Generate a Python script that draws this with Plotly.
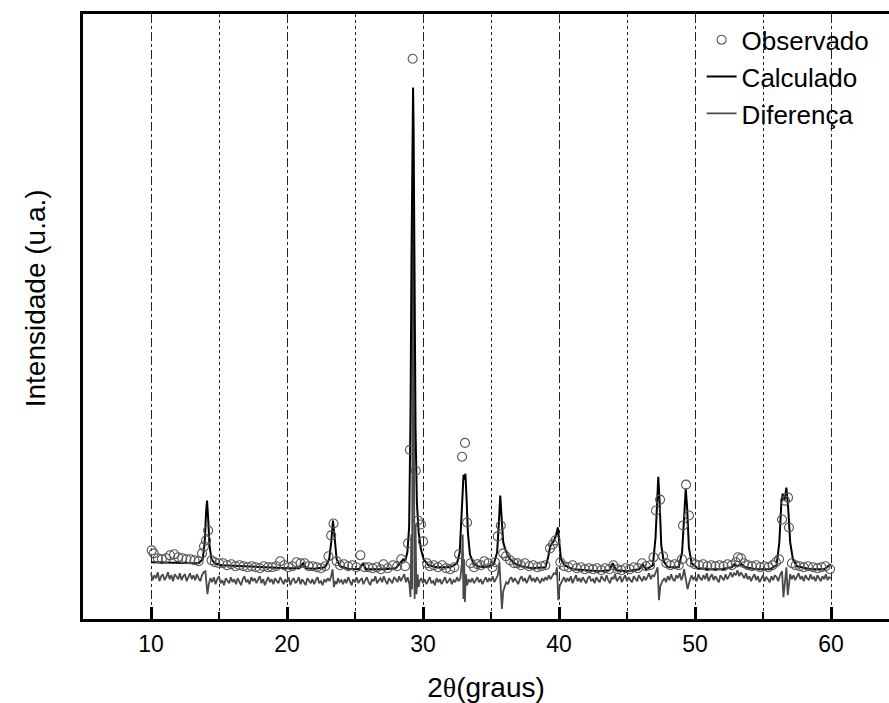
import plotly.graph_objects as go

# 2-theta positions (degrees) and intensities (arbitrary units)

# Observed pattern (open circles)
obs_x = [10.05, 10.2, 10.5, 10.8, 11.1, 11.4, 11.7, 12.0, 12.3, 12.6, 12.9, 13.2, 13.5, 13.75,
         13.9, 14.05, 14.2, 14.45, 14.7, 15.0, 15.3, 15.6, 15.9, 16.2, 16.5, 16.8, 17.1, 17.4,
         17.7, 18.0, 18.3, 18.6, 18.9, 19.2, 19.5, 19.8, 20.1, 20.4, 20.7, 21.0, 21.3, 21.6,
         21.9, 22.2, 22.5, 22.8, 23.05, 23.25, 23.42, 23.65, 23.9, 24.2, 24.5, 24.8, 25.1, 25.4,
         25.7, 26.0, 26.3, 26.6, 26.9, 27.1, 27.4, 27.8, 28.1, 28.4, 28.68, 28.9, 29.04, 29.24,
         29.47, 29.63, 29.85, 30.0, 30.3, 30.5, 30.8, 31.1, 31.4, 31.7, 32.0, 32.3, 32.65, 32.87,
         33.09, 33.24, 33.5, 33.75, 34.0, 34.25, 34.5, 34.8, 35.1, 35.3, 35.5, 35.72, 35.9, 36.1,
         36.4, 36.7, 36.95, 37.2, 37.5, 37.8, 38.1, 38.4, 38.7, 39.0, 39.34, 39.55, 39.75, 40.1,
         40.4, 40.7, 41.0, 41.3, 41.6, 41.9, 42.2, 42.5, 42.8, 43.1, 43.4, 43.7, 44.0, 44.3,
         44.6, 44.9, 45.2, 45.5, 45.8, 46.1, 46.4, 46.7, 46.95, 47.13, 47.43, 47.65, 47.9, 48.2,
         48.5, 48.8, 49.04, 49.12, 49.34, 49.56, 49.71, 50.0, 50.3, 50.6, 50.9, 51.2, 51.5, 51.8,
         52.1, 52.4, 52.7, 53.0, 53.16, 53.38, 53.6, 53.9, 54.2, 54.5, 54.8, 55.1, 55.4, 55.7,
         55.95, 56.18, 56.4, 56.62, 56.84, 56.91, 57.13, 57.4, 57.7, 58.0, 58.3, 58.68, 59.0,
         59.3, 59.6, 59.93]
obs_y = [69, 66, 61, 60, 61, 64, 65, 62, 61, 60, 60, 59, 58, 66,
         73, 79, 89, 59, 57, 56, 56, 54, 55, 53, 54, 53, 52, 53,
         52, 51, 53, 52, 52, 53, 58, 54, 52, 53, 57, 56, 56, 53,
         53, 52, 51, 53, 63, 84, 96, 58, 54, 55, 53, 54, 52, 64,
         52, 52, 51, 52, 50, 55, 51, 54, 53, 60, 53, 76, 170, 563,
         149, 99, 95, 78, 56, 53, 54, 52, 54, 51, 50, 52, 65, 163,
         177, 97, 56, 52, 55, 54, 58, 56, 52, 57, 83, 94, 66, 63,
         59, 56, 56, 54, 56, 53, 54, 52, 53, 54, 71, 75, 79, 57,
         53, 52, 54, 51, 52, 50, 51, 50, 51, 49, 51, 50, 54, 50,
         49, 51, 50, 52, 51, 56, 53, 54, 62, 109, 120, 63, 56, 54,
         55, 54, 60, 94, 135, 104, 57, 55, 54, 55, 53, 54, 53, 54,
         53, 55, 54, 57, 62, 61, 56, 54, 53, 54, 52, 53, 52, 54,
         57, 60, 100, 119, 122, 92, 56, 54, 53, 52, 53, 52, 51,
         52, 53, 50]

# Calculated profile (solid black line)
calc_x = [10.0, 11.0, 12.0, 13.0, 13.5, 13.8, 13.95, 14.05, 14.12, 14.2, 14.3, 14.45, 14.7,
          15.2, 16.0, 17.0, 18.0, 19.0, 20.0, 20.9, 21.2, 21.4, 22.0, 22.8, 23.1, 23.25,
          23.38, 23.5, 23.65, 23.9, 24.5, 25.3, 25.6, 25.8, 27.0, 28.0, 28.4, 28.55, 28.7,
          28.85, 28.98, 29.08, 29.16, 29.23, 29.27, 29.31, 29.37, 29.45, 29.55, 29.68, 29.85,
          30.05, 30.4, 31.0, 32.0, 32.5, 32.7, 32.82, 32.92, 32.98, 33.05, 33.12, 33.2, 33.3,
          33.45, 33.7, 34.0, 34.6, 35.2, 35.45, 35.58, 35.68, 35.78, 35.9, 36.05, 36.3, 36.7,
          37.2, 38.0, 39.0, 39.2, 39.35, 39.5, 39.65, 39.8, 39.92, 40.02, 40.15, 40.4, 41.0,
          42.0, 43.0, 43.7, 43.95, 44.2, 45.0, 45.9, 46.15, 46.4, 46.9, 47.1, 47.22, 47.3,
          47.4, 47.52, 47.7, 48.0, 48.8, 49.05, 49.2, 49.32, 49.42, 49.55, 49.75, 50.2, 51.0,
          52.0, 52.7, 52.9, 53.1, 53.4, 53.7, 54.5, 55.5, 56.0, 56.2, 56.35, 56.45, 56.58,
          56.72, 56.85, 57.0, 57.2, 57.5, 58.5, 59.5, 60.0]
calc_y = [57, 56.5, 56, 55.5, 56, 60, 77, 107, 119, 102, 74, 60, 56,
          54, 53.5, 53, 52, 51.5, 51, 51, 56, 51, 50.5, 52, 60, 77,
          99, 82, 60, 53, 50.5, 50, 56, 50, 50, 51, 57, 60, 59,
          67, 92, 202, 372, 502, 534, 492, 342, 192, 117, 87, 70,
          60, 54, 52, 52, 56, 67, 102, 142, 145, 140, 146, 122, 87,
          65, 56, 53, 52, 55, 67, 97, 124, 102, 77, 70, 62, 56,
          53, 51, 52, 62, 73, 76, 79, 85, 92, 77, 60, 54, 50,
          49, 48, 49, 56, 49, 48, 50, 55, 50, 54, 82, 122, 143,
          117, 74, 58, 52, 52, 67, 102, 131, 112, 72, 56, 51, 50,
          50, 52, 55, 53, 55, 52, 50, 50, 54, 77, 117, 126, 119,
          132, 112, 77, 60, 53, 50, 50, 55]

# Difference curve (observed minus calculated, shifted down)
diff_x = [10.0, 10.12, 10.25, 10.37, 10.5, 10.62, 10.75, 10.87, 11.0, 11.12, 11.25, 11.37,
          11.5, 11.62, 11.75, 11.87, 12.0, 12.12, 12.25, 12.37, 12.5, 12.62, 12.75, 12.87,
          13.0, 13.12, 13.25, 13.37, 13.5, 13.62, 13.75, 13.87, 14.0, 14.1, 14.15, 14.25,
          14.37, 14.5, 14.62, 14.75, 14.87, 15.0, 15.12, 15.25, 15.37, 15.5, 15.62, 15.75,
          15.87, 16.0, 16.12, 16.25, 16.37, 16.5, 16.62, 16.75, 16.87, 17.0, 17.12, 17.25,
          17.37, 17.5, 17.62, 17.75, 17.87, 18.0, 18.12, 18.25, 18.37, 18.5, 18.62, 18.75,
          18.87, 19.0, 19.12, 19.25, 19.37, 19.5, 19.62, 19.75, 19.87, 20.0, 20.12, 20.25,
          20.37, 20.5, 20.62, 20.75, 20.87, 21.0, 21.12, 21.25, 21.37, 21.5, 21.62, 21.75,
          21.87, 22.0, 22.12, 22.25, 22.37, 22.5, 22.62, 22.75, 22.87, 23.0, 23.12, 23.25,
          23.35, 23.45, 23.55, 23.65, 23.75, 23.87, 24.0, 24.12, 24.25, 24.37, 24.5, 24.62,
          24.75, 24.87, 25.0, 25.12, 25.25, 25.37, 25.5, 25.62, 25.75, 25.87, 26.0, 26.12,
          26.25, 26.37, 26.5, 26.62, 26.75, 26.87, 27.0, 27.12, 27.25, 27.37, 27.5, 27.62,
          27.75, 27.87, 28.0, 28.12, 28.25, 28.37, 28.5, 28.62, 28.75, 28.87, 29.0, 29.08,
          29.14, 29.2, 29.26, 29.32, 29.38, 29.45, 29.52, 29.6, 29.68, 29.75, 29.87, 30.0,
          30.12, 30.25, 30.37, 30.5, 30.62, 30.75, 30.87, 31.0, 31.12, 31.25, 31.37, 31.5,
          31.62, 31.75, 31.87, 32.0, 32.12, 32.25, 32.37, 32.5, 32.62, 32.75, 32.85, 32.92,
          32.97, 33.02, 33.08, 33.15, 33.25, 33.37, 33.5, 33.62, 33.75, 33.87, 34.0, 34.12,
          34.25, 34.37, 34.5, 34.62, 34.75, 34.87, 35.0, 35.12, 35.25, 35.37, 35.5, 35.62,
          35.72, 35.8, 35.9, 36.0, 36.12, 36.25, 36.37, 36.5, 36.62, 36.75, 36.87, 37.0,
          37.12, 37.25, 37.37, 37.5, 37.62, 37.75, 37.87, 38.0, 38.12, 38.25, 38.37, 38.5,
          38.62, 38.75, 38.87, 39.0, 39.12, 39.25, 39.37, 39.5, 39.62, 39.75, 39.85, 39.95,
          40.05, 40.15, 40.25, 40.37, 40.5, 40.62, 40.75, 40.87, 41.0, 41.12, 41.25, 41.37,
          41.5, 41.62, 41.75, 41.87, 42.0, 42.12, 42.25, 42.37, 42.5, 42.62, 42.75, 42.87,
          43.0, 43.12, 43.25, 43.37, 43.5, 43.62, 43.75, 43.87, 44.0, 44.12, 44.25, 44.37,
          44.5, 44.62, 44.75, 44.87, 45.0, 45.12, 45.25, 45.37, 45.5, 45.62, 45.75, 45.87,
          46.0, 46.12, 46.25, 46.37, 46.5, 46.62, 46.75, 46.87, 47.0, 47.15, 47.25, 47.35,
          47.45, 47.6, 47.75, 47.87, 48.0, 48.12, 48.25, 48.37, 48.5, 48.62, 48.75, 48.87,
          49.0, 49.1, 49.2, 49.35, 49.45, 49.6, 49.75, 49.87, 50.0, 50.12, 50.25, 50.37,
          50.5, 50.62, 50.75, 50.87, 51.0, 51.12, 51.25, 51.37, 51.5, 51.62, 51.75, 51.87,
          52.0, 52.12, 52.25, 52.37, 52.5, 52.62, 52.75, 52.87, 53.0, 53.12, 53.25, 53.37,
          53.5, 53.62, 53.75, 53.87, 54.0, 54.12, 54.25, 54.37, 54.5, 54.62, 54.75, 54.87,
          55.0, 55.12, 55.25, 55.37, 55.5, 55.62, 55.75, 55.87, 56.0, 56.12, 56.25, 56.4,
          56.5, 56.6, 56.72, 56.82, 56.92, 57.0, 57.12, 57.25, 57.37, 57.5, 57.62, 57.75,
          57.87, 58.0, 58.12, 58.25, 58.37, 58.5, 58.62, 58.75, 58.87, 59.0, 59.12, 59.25,
          59.37, 59.5, 59.62, 59.75, 59.87, 60.0]
diff_y = [46, 39, 44, 41, 47, 38, 43, 45, 39, 42, 47, 40,
          44, 38, 45, 42, 40, 46, 39, 43, 45, 38, 42, 46,
          40, 44, 39, 45, 41, 38, 44, 47, 48, 30, 25, 35,
          41, 37, 42, 35, 40, 43, 36, 39, 34, 41, 38, 36,
          42, 37, 40, 35, 41, 38, 34, 40, 43, 37, 39, 35,
          42, 38, 41, 36, 39, 43, 36, 40, 34, 39, 42, 37,
          40, 35, 41, 38, 36, 42, 39, 35, 40, 37, 42, 34,
          39, 41, 36, 38, 42, 35, 40, 37, 34, 41, 38, 36,
          40, 35, 39, 42, 36, 38, 34, 40, 37, 41, 38, 43,
          50, 32, 38, 35, 41, 37, 39, 35, 40, 36, 42, 38,
          34, 40, 37, 42, 36, 39, 41, 35, 38, 42, 37, 34,
          40, 38, 43, 36, 39, 41, 37, 43, 38, 35, 41, 39,
          36, 42, 40, 37, 43, 38, 41, 45, 37, 42, 35, 22,
          85, 30, 432, 60, 20, 95, 25, 45, 32, 38, 41, 36,
          40, 35, 39, 42, 36, 38, 34, 41, 37, 40, 35, 39,
          42, 36, 38, 41, 35, 39, 37, 42, 38, 41, 55, 85,
          20, 60, 17, 45, 34, 40, 37, 41, 36, 39, 42, 37,
          40, 35, 39, 42, 37, 41, 38, 43, 37, 40, 44, 57,
          30, 10, 28, 33, 37, 35, 40, 42, 37, 41, 38, 35,
          40, 43, 38, 41, 36, 40, 44, 38, 41, 37, 42, 39,
          36, 41, 38, 42, 39, 44, 40, 43, 46, 45, 52, 19,
          33, 36, 39, 42, 37, 41, 38, 43, 36, 40, 44, 38,
          41, 37, 42, 39, 36, 41, 43, 38, 40, 36, 42, 39,
          37, 43, 40, 38, 44, 39, 36, 42, 40, 45, 38, 41,
          43, 37, 40, 44, 38, 42, 39, 37, 43, 40, 38, 44,
          41, 38, 43, 39, 42, 46, 40, 44, 43, 48, 52, 19,
          33, 38, 41, 37, 43, 39, 45, 40, 38, 44, 41, 46,
          39, 43, 50, 38, 30, 38, 44, 40, 42, 38, 45, 41,
          39, 44, 40, 46, 38, 42, 45, 39, 43, 40, 37, 44,
          41, 39, 45, 40, 43, 47, 42, 46, 44, 49, 43, 47,
          44, 41, 46, 40, 43, 38, 42, 45, 39, 43, 37, 41,
          44, 38, 42, 40, 37, 43, 39, 44, 42, 38, 44, 48,
          22, 35, 52, 24, 40, 45, 40, 44, 39, 43, 46, 40,
          43, 38, 44, 41, 39, 45, 40, 42, 38, 44, 41, 38,
          43, 40, 45, 39, 42, 41]

FONT = "Liberation Sans, Arial, sans-serif"

fig = go.Figure()
fig.add_trace(go.Scatter(
    x=diff_x, y=diff_y, mode="lines", name="Diferença",
    line=dict(color="#4a4a4a", width=1.8), legendrank=3))
fig.add_trace(go.Scatter(
    x=calc_x, y=calc_y, mode="lines", name="Calculado",
    line=dict(color="#000000", width=2), legendrank=2))
fig.add_trace(go.Scatter(
    x=obs_x, y=obs_y, mode="markers", name="Observado",
    marker=dict(symbol="circle-open", size=9, color="#555555",
                line=dict(width=1.1)), legendrank=1))

fig.update_layout(
    width=889, height=703,
    margin=dict(l=83, r=0, t=14, b=81),
    paper_bgcolor="white", plot_bgcolor="white",
    font=dict(family=FONT, color="#000000"),
    showlegend=True,
    legend=dict(x=0.7675, y=0.996, xanchor="left", yanchor="top",
                bgcolor="rgba(0,0,0,0)", font=dict(size=26, family=FONT),
                itemwidth=30, tracegroupgap=0),
    xaxis=dict(
        range=[5, 64.265], tick0=0, dtick=10,
        showline=True, linewidth=3, linecolor="#000000", mirror=True,
        ticks="inside", ticklen=12, tickwidth=2.5, tickcolor="#000000",
        tickfont=dict(size=23, family=FONT), ticklabelstandoff=2,
        showgrid=True, gridcolor="#222222", gridwidth=1, griddash="dashdot",
        zeroline=False,
        minor=dict(dtick=5, tick0=0, ticks="inside", ticklen=7, tickwidth=2,
                   tickcolor="#000000", showgrid=True, gridcolor="#222222",
                   gridwidth=1, griddash="dot"),
        title=dict(text='2<span style="font-family:Liberation Serif">θ</span>(graus)',
                   font=dict(size=28, family=FONT), standoff=27),
    ),
    yaxis=dict(
        range=[0, 608], showline=True, linewidth=3, linecolor="#000000",
        showticklabels=False, ticks="", showgrid=False, zeroline=False,
    ),
    annotations=[dict(
        text="Intensidade (u.a.)", textangle=-90, showarrow=False,
        xref="paper", yref="paper", x=-0.0596, y=0.53,
        xanchor="center", yanchor="middle",
        font=dict(size=28, family=FONT, color="#000000"),
    )],
)

fig.write_html("out.html")
